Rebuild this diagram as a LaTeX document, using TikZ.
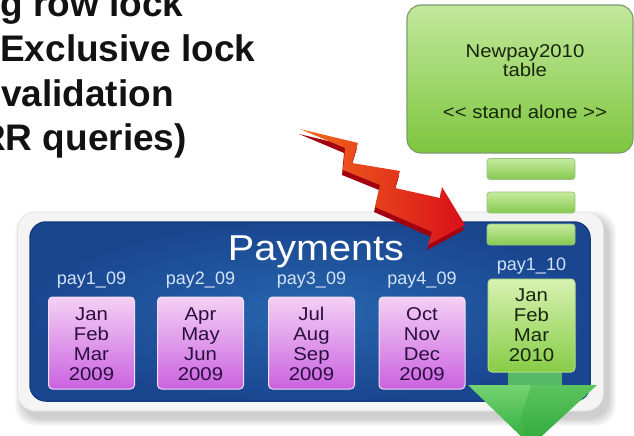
\documentclass[tikz,border=0pt]{standalone}
\usepackage{fontspec}
\setmainfont{Liberation Sans}
\newfontfamily\widesans[FakeStretch=1.1]{Liberation Sans}
\definecolor{panelin}{HTML}{2766AE}
\definecolor{panelout}{HTML}{1A4690}
\definecolor{paneledge}{HTML}{163C80}
\definecolor{framefill}{HTML}{F4F4F4}
\definecolor{frameedge}{HTML}{E2E2E2}
\definecolor{pinktop}{HTML}{F4D0F4}
\definecolor{pinkbot}{HTML}{CA62E0}
\definecolor{pinkedge}{HTML}{F2DEF6}
\definecolor{pinktext}{HTML}{2A0E3E}
\definecolor{greentop}{HTML}{D8F2B2}
\definecolor{greenbot}{HTML}{86CC46}
\definecolor{greenedge}{HTML}{B4DE8C}
\definecolor{greentext}{HTML}{18260E}
\definecolor{bigtop}{HTML}{C2E89C}
\definecolor{bigbot}{HTML}{7EC63E}
\definecolor{bigedge}{HTML}{7E9C70}
\definecolor{bartop}{HTML}{C6EB9E}
\definecolor{barbot}{HTML}{86C950}
\definecolor{baredge}{HTML}{9CC282}
\definecolor{labelblue}{HTML}{D2E3F6}
\definecolor{boltorange}{HTML}{F26A1C}
\definecolor{boltred}{HTML}{D8101A}
\definecolor{boltdark}{HTML}{A2000E}
\definecolor{arrowlight}{HTML}{74D470}
\definecolor{arrowdark}{HTML}{2EA83C}
\definecolor{arrowshaft}{HTML}{5CC664}
\tikzset{
  boxtext/.style={inner sep=0pt, anchor=base, font=\widesans\fontsize{18.5}{20}\selectfont},
  pinkbox/.style={rectangle, rounded corners=4pt, draw=pinkedge, line width=1pt,
    top color=pinktop, bottom color=pinkbot, minimum width=86pt, minimum height=92pt, inner sep=0pt},
  greenbox/.style={rectangle, rounded corners=4pt, draw=greenedge, line width=1pt,
    top color=greentop, bottom color=greenbot, minimum width=87pt, minimum height=93pt, inner sep=0pt},
  barbox/.style={rectangle, rounded corners=3pt, draw=baredge, line width=0.8pt,
    top color=bartop, bottom color=barbot, minimum width=88pt, minimum height=21pt, inner sep=0pt},
  paylabel/.style={inner sep=0pt, anchor=base, text=labelblue, font=\fontsize{18}{20}\selectfont},
  headline/.style={inner sep=0pt, font=\fontsize{37}{44}\selectfont\bfseries, text=black!93},
}
\begin{document}
\begin{tikzpicture}[x=1pt,y=-1pt]
\useasboundingbox (0,0) rectangle (634,436);
\clip (0,0) rectangle (634,436);
\fill[white] (0,0) rectangle (634,436);

% heading text (cut at the left edge, as in the reference)
\node[headline, anchor=base west] (h1) at (0,17) {g row lock};
\node[headline, anchor=base west] (h2) at (0,61) {Exclusive lock};
\node[headline, anchor=base east] (h3) at (174,106) {validation};
\node[headline, anchor=base east] (h4) at (187,150) {RR queries)};

% outer frame with soft shadow
\foreach \i in {1,...,8}
  \fill[black, opacity=0.025, rounded corners=20pt] (18-\i+5,212-\i+7) rectangle (603+\i+5,411+\i+7);
\node[rectangle, rounded corners=18pt, fill=framefill, draw=frameedge, line width=0.6pt,
      minimum width=586pt, minimum height=199pt, inner sep=0pt] (frame) at (310.5,311.5) {};

% blue Payments panel
\node[rectangle, rounded corners=16pt, inner color=panelin, outer color=panelout,
      draw=paneledge, line width=1.5pt, minimum width=560pt, minimum height=179pt, inner sep=0pt]
      (panel) at (310,311.5) {};
\node[inner sep=0pt, anchor=base, text=white, font=\widesans\fontsize{36}{40}\selectfont]
      (title) at (316,260) {Payments};

% Newpay2010 table box and its bars
\node[rectangle, rounded corners=14pt, top color=bigtop, bottom color=bigbot,
      draw=bigedge, line width=1.2pt, minimum width=226pt, minimum height=148pt, inner sep=0pt]
      (newpay) at (520,79) {};
\node[boxtext, text=greentext] (np1) at (525,58) {Newpay2010};
\node[boxtext, text=greentext] (np2) at (525,77) {table};
\node[boxtext, text=greentext] (np3) at (525,118) {<< stand alone >>};
\node[barbox] (bar1) at (531,169) {};
\node[barbox] (bar2) at (531,202.5) {};
\node[barbox] (bar3) at (531,234.5) {};

% red lightning arrow: extruded side, then face
\fill[boltdark] (299,134) -- (357,148) -- (351,168) -- (399,176) -- (394,193) -- (439,203)
  -- (441,192) -- (464,230) -- (427,250) -- (431,237) -- (374,212) -- (379,190) -- (342,175)
  -- (344,153) -- cycle;
\shade[left color=boltorange, right color=boltred] (300,129) -- (358,143) -- (352,163) -- (400,171)
  -- (395,188) -- (440,198) -- (442,187) -- (465,225) -- (428,245) -- (432,232) -- (375,207)
  -- (380,185) -- (343,170) -- (345,148) -- cycle;

% quarter partitions
\foreach \n/\cx/\la/\lb/\lc/\ld/\lab in {1/91.5/Jan/Feb/Mar/2009/pay1\_09, 2/200.5/Apr/May/Jun/2009/pay2\_09,
    3/311.5/Jul/Aug/Sep/2009/pay3\_09, 4/422/Oct/Nov/Dec/2009/pay4\_09}{
  \node[pinkbox] (q\n) at (\cx,343) {};
  \node[paylabel] (l\n) at (\cx,284) {\lab};
  \node[boxtext, text=pinktext] (qa\n) at (\cx,320) {\la};
  \node[boxtext, text=pinktext] (qb\n) at (\cx,340) {\lb};
  \node[boxtext, text=pinktext] (qc\n) at (\cx,360) {\lc};
  \node[boxtext, text=pinktext] (qd\n) at (\cx,380) {\ld};
}

% green down arrow (behind the new partition)
\fill[arrowshaft, opacity=0.9] (508,368) rectangle (562,386);
\shade[top color=arrowlight, bottom color=arrowdark] (468,385) -- (597,385) -- (531,446) -- cycle;
\fill[arrowdark, opacity=0.35] (531,385) -- (597,385) -- (531,446) -- (520,420) -- cycle;

% new partition pay1_10
\node[greenbox] (q5) at (531.5,325.5) {};
\node[paylabel] (l5) at (531.5,270) {pay1\_10};
\node[boxtext, text=greentext] (qa5) at (531.5,301) {Jan};
\node[boxtext, text=greentext] (qb5) at (531.5,321) {Feb};
\node[boxtext, text=greentext] (qc5) at (531.5,341) {Mar};
\node[boxtext, text=greentext] (qd5) at (531.5,361) {2010};
\end{tikzpicture}
\end{document}
